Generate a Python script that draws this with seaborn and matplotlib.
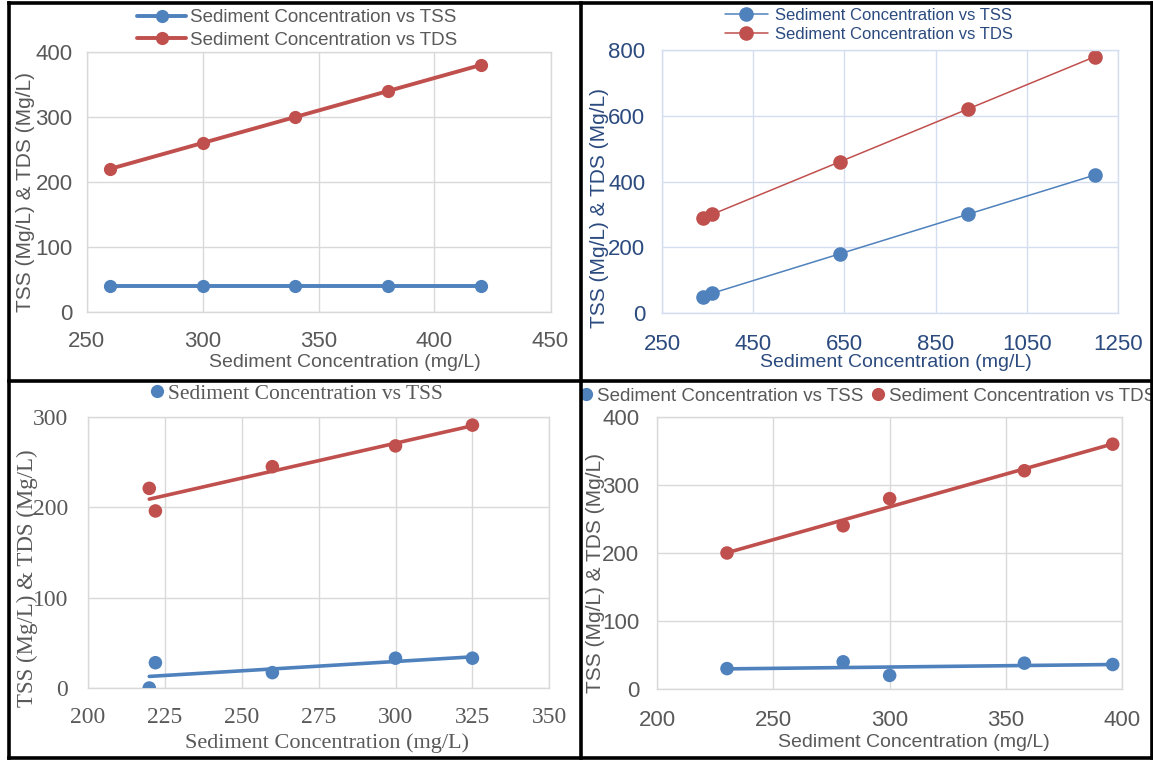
import numpy as np
import pandas as pd
import matplotlib
matplotlib.use("Agg")
import matplotlib.pyplot as plt
from matplotlib.lines import Line2D
from matplotlib import font_manager as fm
import seaborn as sns

# ---------------- data ----------------
series_labels = ["Sediment Concentration vs TSS", "Sediment Concentration vs TDS"]
x_label = "Sediment Concentration (mg/L)"
y_label = "TSS (Mg/L) & TDS (Mg/L)"

p1_x = [260, 300, 340, 380, 420]
p1_tss = [40, 40, 40, 40, 40]
p1_tds = [220, 260, 300, 340, 380]

p2_x = [340, 360, 640, 920, 1200]
p2_tss = [50, 60, 180, 300, 420]
p2_tds = [290, 300, 460, 620, 780]

p3_x = [220, 222, 260, 300, 325]
p3_tss = [0, 28, 17, 33, 33]
p3_tds = [221, 196, 245, 268, 291]

p4_x = [230, 280, 300, 358, 396]
p4_tss = [30, 40, 20, 38, 36]
p4_tds = [200, 240, 280, 321, 360]

p1_xticks = [250, 300, 350, 400, 450]
p1_yticks = [0, 100, 200, 300, 400]
p2_xticks = [250, 450, 650, 850, 1050, 1250]
p2_yticks = [0, 200, 400, 600, 800]
p3_xticks = [200, 225, 250, 275, 300, 325, 350]
p3_yticks = [0, 100, 200, 300]
p4_xticks = [200, 250, 300, 350, 400]
p4_yticks = [0, 100, 200, 300, 400]

BLUE = "#4F81BD"
RED = "#C0504D"

# ---------------- setup ----------------
sns.set_theme(style="white")
names = {f.name for f in fm.fontManager.ttflist}
NARROW = "Liberation Sans Narrow" if "Liberation Sans Narrow" in names else "Liberation Sans"
SANS = "Liberation Sans"
SERIF = "Liberation Serif"
plt.rcParams["font.family"] = [SANS, "DejaVu Sans"]

W, H = 1153, 760
fig = plt.figure(figsize=(W / 100, H / 100), dpi=100)
fig.patch.set_facecolor("white")


def add_ax(l, r, t, b):
    return fig.add_axes([l / W, 1 - b / H, (r - l) / W, (b - t) / H])


def long_df(x, tss, tds):
    return pd.DataFrame({
        "x": list(x) + list(x),
        "y": list(tss) + list(tds),
        "series": [series_labels[0]] * len(x) + [series_labels[1]] * len(x),
    })


def style(ax, xlim, ylim, xticks, yticks, textc, gridc, tickfont, ticksize,
          xpad, ypad, labfont, xlabsize, ylabsize, xlc, ylc):
    ax.set_xlim(*xlim)
    ax.set_ylim(*ylim)
    ax.set_xticks(xticks)
    ax.set_yticks(yticks)
    ax.grid(True, color=gridc, lw=1.0)
    ax.set_axisbelow(True)
    for s in ax.spines.values():
        s.set_visible(True)
        s.set_color(gridc)
        s.set_linewidth(1.0)
    ax.tick_params(axis="both", length=0, labelcolor=textc, labelsize=ticksize)
    ax.tick_params(axis="x", pad=xpad)
    ax.tick_params(axis="y", pad=ypad)
    for lab in ax.get_xticklabels() + ax.get_yticklabels():
        lab.set_fontfamily(tickfont)
    ax.set_xlabel(x_label, color=textc, fontsize=xlabsize, family=labfont)
    ax.set_ylabel(y_label, color=textc, fontsize=ylabsize, family=labfont)
    ax.xaxis.label.set_va("center")
    ax.yaxis.label.set_va("center")
    ax.xaxis.set_label_coords(*xlc)
    ax.yaxis.set_label_coords(*ylc)
    ax.set_facecolor("white")


def fig_legend(ax, handles, labels, cx, cy, **kw):
    leg = ax.legend(handles, labels, loc="center",
                    bbox_to_anchor=(cx / W, 1 - cy / H),
                    bbox_transform=fig.transFigure, frameon=False,
                    borderpad=0, borderaxespad=0, **kw)
    return leg


# ---------------- panel 1 ----------------
ax1 = add_ax(86.5, 550.5, 52, 312)
d1 = long_df(p1_x, p1_tss, p1_tds)
sns.lineplot(data=d1, x="x", y="y", hue="series", palette=[BLUE, RED],
             marker="o", markersize=9.5, markeredgewidth=0, linewidth=2.8,
             legend=False, ax=ax1)
style(ax1, (250, 450), (0, 400), p1_xticks, p1_yticks, "#595959", "#D9D9D9",
      NARROW, 16, 14, 10, SANS, 14, 15, (0.557, -0.196), (-0.131, 0.462))
h1 = [Line2D([], [], color=c, lw=2.8, marker="o", ms=9.5, mew=0) for c in (BLUE, RED)]
l1 = fig_legend(ax1, h1, series_labels, 297, 29, fontsize=13.5,
                handlelength=2.6, handletextpad=0.2, labelspacing=0.28)
for t in l1.get_texts():
    t.set_color("#595959")

# ---------------- panel 2 ----------------
NAVY = "#2B4A7E"
ax2 = add_ax(662, 1118, 50, 313)
d2 = long_df(p2_x, p2_tss, p2_tds)
sns.lineplot(data=d2, x="x", y="y", hue="series", palette=[BLUE, RED],
             marker="o", markersize=10.5, markeredgewidth=0, linewidth=1.1,
             legend=False, ax=ax2)
style(ax2, (250, 1250), (0, 800), p2_xticks, p2_yticks, NAVY, "#D3DEF0",
      NARROW, 16, 15, 12, SANS, 14, 15, (0.513, -0.190), (-0.137, 0.399))
h2 = [Line2D([], [], color=c, lw=1.1, marker="o", ms=10.5, mew=0) for c in (BLUE, RED)]
l2 = fig_legend(ax2, h2, series_labels, 869, 25, fontsize=12,
                handlelength=2.6, handletextpad=0.45, labelspacing=0.2)
for t in l2.get_texts():
    t.set_color(NAVY)

# ---------------- panel 3 ----------------
ax3 = add_ax(87.7, 549.4, 417, 688)
d3 = long_df(p3_x, p3_tss, p3_tds)
sns.scatterplot(data=d3, x="x", y="y", hue="series", palette=[BLUE, RED],
                s=95, linewidth=0, legend=False, ax=ax3, zorder=3)
sns.regplot(x=p3_x, y=p3_tss, scatter=False, ci=None, color=BLUE,
            line_kws={"lw": 2.6}, ax=ax3)
sns.regplot(x=p3_x, y=p3_tds, scatter=False, ci=None, color=RED,
            line_kws={"lw": 2.6}, ax=ax3)
style(ax3, (200, 350), (0, 300), p3_xticks, p3_yticks, "#595959", "#D9D9D9",
      SERIF, 17, 14, 14, SERIF, 16, 16.5, (0.519, -0.203), (-0.130, 0.406))
h3 = [Line2D([], [], color=BLUE, lw=0, marker="o", ms=9.5, mew=0)]
l3 = fig_legend(ax3, h3, series_labels[:1], 297, 394, fontsize=15.5,
                handlelength=0.6, handletextpad=0.2,
                prop={"family": SERIF, "size": 15.5})
for t in l3.get_texts():
    t.set_color("#595959")

# ---------------- panel 4 ----------------
ax4 = add_ax(657.3, 1122, 417, 689)
d4 = long_df(p4_x, p4_tss, p4_tds)
sns.scatterplot(data=d4, x="x", y="y", hue="series", palette=[BLUE, RED],
                s=95, linewidth=0, legend=False, ax=ax4, zorder=3)
sns.regplot(x=p4_x, y=p4_tss, scatter=False, ci=None, color=BLUE,
            line_kws={"lw": 2.6}, ax=ax4)
sns.regplot(x=p4_x, y=p4_tds, scatter=False, ci=None, color=RED,
            line_kws={"lw": 2.6}, ax=ax4)
style(ax4, (200, 400), (0, 400), p4_xticks, p4_yticks, "#595959", "#D9D9D9",
      NARROW, 16, 15, 13, SANS, 14, 15, (0.553, -0.195), (-0.133, 0.426))
h4 = [Line2D([], [], color=c, lw=0, marker="o", ms=9.5, mew=0) for c in (BLUE, RED)]
l4 = fig_legend(ax4, h4, series_labels, 868, 396, fontsize=13.5, ncol=2,
                handlelength=0.7, handletextpad=0.25, columnspacing=0.4)
for t in l4.get_texts():
    t.set_color("#595959")

# ---------------- panel frames ----------------
frame_kw = dict(color="black", lw=2.6, zorder=20, solid_capstyle="projecting")
def hline(y, x0, x1):
    fig.add_artist(Line2D([x0 / W, x1 / W], [1 - y / H, 1 - y / H], transform=fig.transFigure, **frame_kw))
def vline(x, y0, y1):
    fig.add_artist(Line2D([x / W, x / W], [1 - y0 / H, 1 - y1 / H], transform=fig.transFigure, **frame_kw))

hline(2.5, 8.5, 1151.5)
hline(381, 8.5, 1151.5)
hline(758, 8.5, 1151.5)
vline(8.5, 2.5, 758)
vline(581, 2.5, 758)
vline(1151.5, 2.5, 758)

fig.savefig("out.png", dpi=100, facecolor="white")
